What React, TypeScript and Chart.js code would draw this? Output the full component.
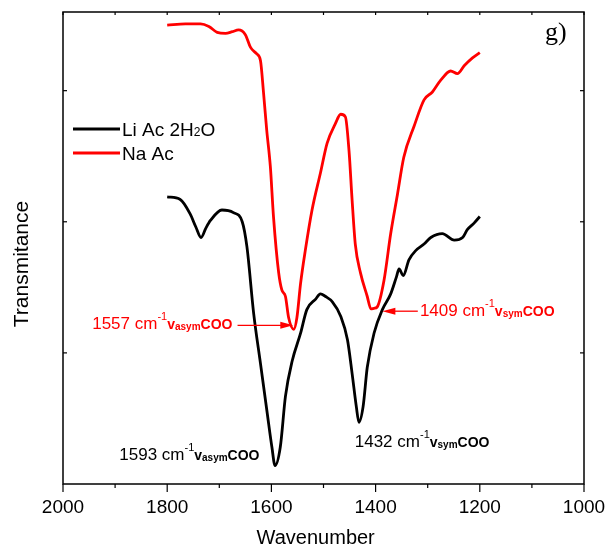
import React, { useEffect, useRef } from 'react';
import { Chart, registerables } from 'chart.js';

Chart.register(...registerables);

// ---- data (wavenumber in cm-1, transmittance in arbitrary offset units) ----
const liWavenumbers = [1800, 1775, 1756, 1745, 1735, 1726, 1717, 1695, 1673, 1656, 1647, 1634, 1621, 1608, 1599, 1593, 1583, 1573, 1560, 1544, 1532, 1515, 1506, 1496, 1483, 1467, 1454, 1445, 1437, 1432, 1424, 1416, 1403, 1387, 1371, 1360, 1355, 1347, 1336, 1323, 1307, 1294, 1272, 1249, 1233, 1224, 1211, 1200];
const liTransmittance = [2.19, 2.17, 2.06, 1.96, 1.88, 1.95, 2.01, 2.09, 2.07, 2.0, 1.81, 1.3, 0.92, 0.54, 0.28, 0.14, 0.28, 0.67, 0.94, 1.15, 1.33, 1.41, 1.45, 1.43, 1.39, 1.28, 1.1, 0.84, 0.59, 0.47, 0.59, 0.89, 1.15, 1.33, 1.45, 1.58, 1.64, 1.59, 1.71, 1.78, 1.83, 1.88, 1.91, 1.86, 1.88, 1.94, 1.99, 2.04];

const naWavenumbers = [1800, 1765, 1736, 1720, 1704, 1688, 1675, 1663, 1650, 1640, 1628, 1621, 1615, 1609, 1602, 1596, 1586, 1580, 1573, 1567, 1557, 1551, 1544, 1535, 1522, 1506, 1493, 1477, 1467, 1458, 1451, 1445, 1439, 1429, 1416, 1409, 1403, 1397, 1384, 1371, 1358, 1346, 1326, 1307, 1291, 1275, 1256, 1243, 1230, 1214, 1200];
const naTransmittance = [3.5, 3.51, 3.51, 3.49, 3.445, 3.437, 3.45, 3.463, 3.427, 3.33, 3.28, 3.23, 2.98, 2.7, 2.42, 2.04, 1.61, 1.48, 1.43, 1.27, 1.18, 1.27, 1.53, 1.78, 2.09, 2.37, 2.6, 2.75, 2.82, 2.8, 2.54, 2.16, 1.83, 1.61, 1.43, 1.335, 1.34, 1.35, 1.55, 1.91, 2.21, 2.49, 2.73, 2.93, 2.99, 3.08, 3.15, 3.13, 3.19, 3.25, 3.29];

const seriesNames = ['Li Ac 2H\u2082O', 'Na Ac'];
const seriesColors = ['#000000', '#ff0000'];
const xTickLabels = [2000, 1800, 1600, 1400, 1200, 1000];
const xMinorTicks = [1900, 1700, 1500, 1300, 1100];
const yTickValues = [1, 2, 3];

// peak annotations: anchor (wavenumber, value) = left end of text baseline
const peakLabels = [
  { peak: '1557', mode: 'asym', color: '#ff0000', wn: 1944, val: 1.18, arrowFrom: 1665, arrowTo: 1558, arrowVal: 1.21 },
  { peak: '1409', mode: 'sym', color: '#ff0000', wn: 1315, val: 1.28, arrowFrom: 1319, arrowTo: 1387, arrowVal: 1.318 },
  { peak: '1593', mode: 'asym', color: '#000000', wn: 1892, val: 0.183 },
  { peak: '1432', mode: 'sym', color: '#000000', wn: 1440, val: 0.282 },
];

const SANS = '"Liberation Sans", Arial, sans-serif';

type Seg = { t: string; size: number; bold?: boolean; dy?: number };

function drawRich(ctx: CanvasRenderingContext2D, segs: Seg[], x: number, y: number, color: string) {
  ctx.fillStyle = color;
  ctx.textBaseline = 'alphabetic';
  ctx.textAlign = 'left';
  let cx = x;
  for (const s of segs) {
    ctx.font = `${s.bold ? 'bold ' : ''}${s.size}px ${SANS}`;
    ctx.fillText(s.t, cx, y + (s.dy || 0));
    cx += ctx.measureText(s.t).width;
  }
}

const overlayPlugin = {
  id: 'overlay',
  afterDraw(chart: any) {
    const { ctx, chartArea: a, scales } = chart;
    const xs = scales.x;
    const ys = scales.y;
    ctx.save();
    ctx.strokeStyle = '#000';
    ctx.lineWidth = 1.5;
    ctx.strokeRect(a.left, a.top, a.right - a.left, a.bottom - a.top);
    const seg = (x1: number, y1: number, x2: number, y2: number) => {
      ctx.beginPath();
      ctx.moveTo(x1, y1);
      ctx.lineTo(x2, y2);
      ctx.stroke();
    };
    ctx.lineWidth = 1.2;
    for (const v of xTickLabels) {
      const px = xs.getPixelForValue(v);
      seg(px, a.bottom, px, a.bottom + 8);
      seg(px, a.top, px, a.top + 3);
    }
    for (const v of xMinorTicks) {
      const px = xs.getPixelForValue(v);
      seg(px, a.bottom, px, a.bottom + 4);
      seg(px, a.top, px, a.top + 3);
    }
    for (const v of yTickValues) {
      const py = ys.getPixelForValue(v);
      seg(a.left, py, a.left + 4, py);
      seg(a.right, py, a.right - 4, py);
    }

    // axis titles
    ctx.fillStyle = '#000';
    ctx.textAlign = 'center';
    ctx.textBaseline = 'middle';
    ctx.font = `20px ${SANS}`;
    ctx.fillText('Wavenumber', xs.getPixelForValue(1515), a.bottom + 54);
    ctx.save();
    ctx.translate(22, (a.top + a.bottom) / 2 + 16);
    ctx.rotate(-Math.PI / 2);
    ctx.font = `21px ${SANS}`;
    ctx.fillText('Transmitance', 0, 0);
    ctx.restore();

    // legend
    const legY = [a.top + 117, a.top + 141];
    seriesNames.forEach((name, i) => {
      ctx.strokeStyle = seriesColors[i];
      ctx.lineWidth = 3;
      seg(a.left + 10, legY[i], a.left + 57, legY[i]);
      if (i === 0) {
        drawRich(ctx, [
          { t: 'Li Ac 2H', size: 19 },
          { t: '2', size: 12 },
          { t: 'O', size: 19 },
        ], a.left + 59, legY[i] + 7, '#000');
      } else {
        drawRich(ctx, [{ t: name, size: 19 }], a.left + 59, legY[i] + 7, '#000');
      }
    });

    // panel label
    ctx.fillStyle = '#000';
    ctx.font = `26px "Liberation Serif", "Times New Roman", serif`;
    ctx.textAlign = 'left';
    ctx.textBaseline = 'alphabetic';
    ctx.fillText('g)', a.right - 39, a.top + 28);

    // peak annotations
    for (const p of peakLabels) {
      const px = xs.getPixelForValue(p.wn);
      const py = ys.getPixelForValue(p.val);
      drawRich(ctx, [
        { t: `${p.peak} cm`, size: 17 },
        { t: '-1', size: 11, dy: -9 },
        { t: 'v', size: 14, bold: true },
        { t: p.mode, size: 10, bold: true, dy: 1 },
        { t: 'COO', size: 14, bold: true },
      ], px, py, p.color);
      if (p.arrowFrom !== undefined) {
        const x1 = xs.getPixelForValue(p.arrowFrom);
        const x2 = xs.getPixelForValue(p.arrowTo);
        const ay = ys.getPixelForValue(p.arrowVal);
        const dir = Math.sign(x2 - x1);
        ctx.strokeStyle = p.color;
        ctx.fillStyle = p.color;
        ctx.lineWidth = 1.3;
        seg(x1, ay, x2 - dir * 8, ay);
        ctx.beginPath();
        ctx.moveTo(x2, ay);
        ctx.lineTo(x2 - dir * 13, ay - 3.5);
        ctx.lineTo(x2 - dir * 13, ay + 3.5);
        ctx.closePath();
        ctx.fill();
      }
    }
    ctx.restore();
  },
};

export default function App() {
  const ref = useRef<HTMLCanvasElement>(null);
  useEffect(() => {
    document.body.style.margin = '0';
    const canvas = ref.current;
    if (!canvas) return;
    const chart = new Chart(canvas, {
      type: 'line',
      data: {
        datasets: [
          {
            label: seriesNames[0],
            data: liWavenumbers.map((w, i) => ({ x: w, y: liTransmittance[i] })),
            borderColor: seriesColors[0],
            borderWidth: 2.8,
            pointRadius: 0,
            cubicInterpolationMode: 'monotone',
            fill: false,
          },
          {
            label: seriesNames[1],
            data: naWavenumbers.map((w, i) => ({ x: w, y: naTransmittance[i] })),
            borderColor: seriesColors[1],
            borderWidth: 2.8,
            pointRadius: 0,
            cubicInterpolationMode: 'monotone',
            fill: false,
          },
        ],
      },
      options: {
        responsive: false,
        animation: false,
        devicePixelRatio: 1,
        layout: { padding: { top: 12, right: 23, left: 0, bottom: 0 } },
        plugins: { legend: { display: false }, tooltip: { enabled: false } },
        scales: {
          x: {
            type: 'linear',
            min: 1000,
            max: 2000,
            reverse: true,
            afterFit: (s: any) => { s.height = 66; s.paddingLeft = 0; s.paddingRight = 0; },
            afterBuildTicks: (s: any) => { s.ticks = xTickLabels.map((v) => ({ value: v })); },
            ticks: {
              color: '#000',
              font: { size: 19, family: SANS },
              padding: 12,
              maxRotation: 0,
              autoSkip: false,
              callback: (v: any) => String(v),
            },
            grid: { display: false, drawTicks: false },
            border: { display: false },
            title: { display: false },
          },
          y: {
            type: 'linear',
            min: 0,
            max: 3.6,
            afterFit: (s: any) => { s.width = 63; },
            ticks: { display: false },
            grid: { display: false, drawTicks: false },
            border: { display: false },
          },
        },
      },
      plugins: [overlayPlugin],
    } as any);
    return () => chart.destroy();
  }, []);
  return (
    <div style={{ width: 607, height: 550 }}>
      <canvas ref={ref} width={607} height={550} />
    </div>
  );
}
